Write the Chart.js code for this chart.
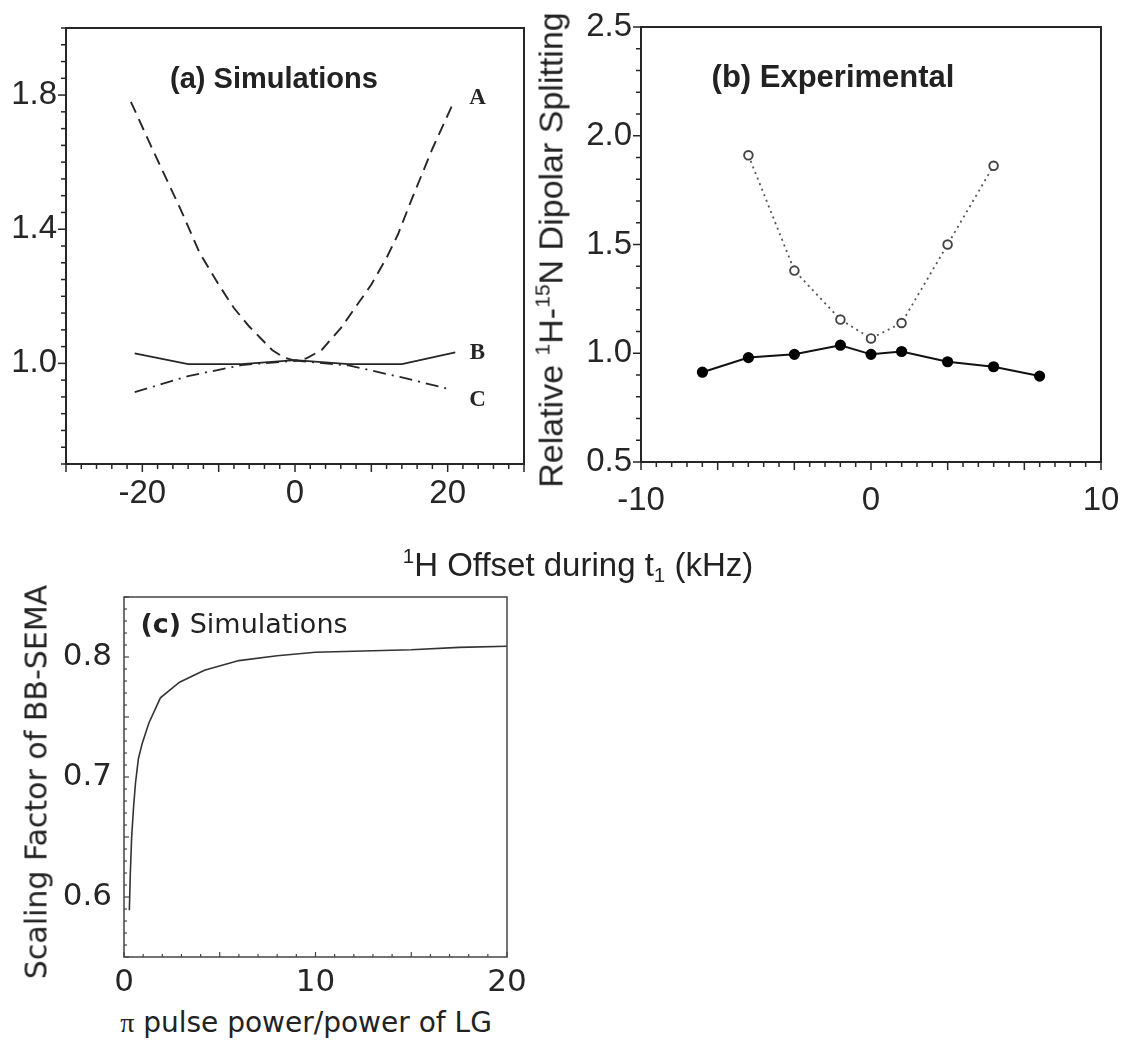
<!DOCTYPE html>
<html>
<head>
<meta charset="utf-8">
<script src="https://cdn.jsdelivr.net/npm/chart.js@4.4.1/dist/chart.umd.min.js"></script>
<style>
  html, body { margin: 0; padding: 0; background: #fff; }
  body { width: 1125px; height: 1041px; position: relative; overflow: hidden; color: #222; }
  canvas { position: absolute; }
  .t { position: absolute; white-space: nowrap; transform: translate(-50%, -50%); color: #222; line-height: 1; }
  .rot { transform: translate(-50%, -50%) rotate(-90deg); }
  .sup { font-size: 62%; position: relative; top: -0.62em; }
  .sub { font-size: 62%; position: relative; top: 0.3em; }
</style>
</head>
<body>
<canvas id="chartA" width="545" height="520" style="left:0;top:0"></canvas>
<canvas id="chartB" width="595" height="530" style="left:530px;top:0"></canvas>
<canvas id="chartC" width="525" height="445" style="left:0;top:560px"></canvas>

<div class="t" style="left:274px;top:78px;font:bold 29px 'Liberation Sans',Arial,sans-serif">(a) Simulations</div>
<div class="t" style="left:833px;top:77px;font:bold 31px 'Liberation Sans',Arial,sans-serif">(b) Experimental</div>
<div class="t" style="left:578px;top:565px;font:33px 'Liberation Sans',Arial,sans-serif"><span class="sup">1</span>H Offset during t<span class="sub">1</span> (kHz)</div>
<div class="t rot" style="left:551px;top:250px;font:34px 'Liberation Sans',Arial,sans-serif">Relative <span class="sup">1</span>H-<span class="sup">15</span>N Dipolar Splitting</div>
<div class="t" style="left:244px;top:623px;font:27px 'DejaVu Sans',sans-serif"><b>(c)</b> Simulations</div>
<div class="t rot" style="left:36px;top:782px;font:30px 'DejaVu Sans',sans-serif">Scaling Factor of BB-SEMA</div>
<div class="t" style="left:306px;top:1022px;font:28px 'DejaVu Sans',sans-serif"><span style="font-family:'Liberation Serif',serif">π</span> pulse power/power of LG</div>

<script>
// ---- (a) simulated dipolar splitting vs 1H offset (kHz) ----
const offsetA = [-21.5, -18.6, -15, -12.5, -10, -8, -6, -4.5, -3, -1.5, 0, 1.5, 3.5, 6, 8, 10, 12, 13.5, 15.3, 18, 20.8];
const curveA  = [1.78, 1.635, 1.46, 1.33, 1.235, 1.165, 1.11, 1.075, 1.04, 1.018, 1.008, 1.015, 1.04, 1.105, 1.17, 1.235, 1.315, 1.385, 1.49, 1.64, 1.78];
const offsetB = [-21, -14, -7, 0, 7, 14, 21];
const curveB  = [1.03, 0.998, 0.998, 1.01, 0.998, 0.998, 1.033];
const offsetC = [-21, -14, -7, 0, 7, 14, 20.5];
const curveC  = [0.914, 0.962, 0.995, 1.008, 0.994, 0.958, 0.922];
const curveNames = ['A', 'B', 'C'];
const tickLabelsAy = [1.0, 1.4, 1.8];
const tickLabelsAx = [-20, 0, 20];

// ---- (b) experimental splittings ----
const offsetExp = [-7.33, -5.33, -3.33, -1.33, 0, 1.33, 3.33, 5.33, 7.33];
const splitFilled = [0.913, 0.980, 0.995, 1.037, 0.995, 1.008, 0.961, 0.938, 0.895];
const offsetOpen = [-5.33, -3.33, -1.33, 0, 1.33, 3.33, 5.33];
const splitOpen = [1.91, 1.38, 1.155, 1.068, 1.139, 1.50, 1.862];
const tickLabelsBy = [0.5, 1.0, 1.5, 2.0, 2.5];
const tickLabelsBx = [-10, 0, 10];

// ---- (c) scaling factor vs pi-pulse power ratio ----
const powerRatio = [0.28, 0.33, 0.4, 0.5, 0.6, 0.75, 0.95, 1.3, 1.9, 2.9, 4.2, 6.0, 8.0, 10, 12.5, 15, 17.5, 20];
const scalingFactor = [0.589, 0.62, 0.65, 0.675, 0.695, 0.715, 0.728, 0.745, 0.766, 0.779, 0.789, 0.797, 0.801, 0.804, 0.805, 0.806, 0.808, 0.809];
const tickLabelsCy = [0.6, 0.7, 0.8];
const tickLabelsCx = [0, 10, 20];

const pts = (xs, ys) => xs.map((x, i) => ({ x, y: ys[i] }));
const fixedTicks = vals => scale => { scale.ticks = vals.map(v => ({ value: v })); };

// Box frame plus minor/major tick marks, placed through the chart's own scales
const frameTicks = {
  id: 'frameTicks',
  afterDraw(chart, args, o) {
    const { ctx, chartArea: a } = chart;
    ctx.save();
    ctx.strokeStyle = o.color;
    ctx.lineWidth = o.width;
    ctx.lineCap = 'square';
    ctx.strokeRect(a.left, a.top, a.right - a.left, a.bottom - a.top);
    ctx.lineWidth = o.tickWidth;
    ctx.lineCap = 'butt';
    for (const axis of ['x', 'y']) {
      const t = o[axis];
      const s = chart.scales[axis];
      const n = Math.round((s.max - s.min) / t.step);
      for (let i = 0; i <= n; i++) {
        const v = s.min + i * t.step;
        const major = t.majors.some(m => Math.abs(m - v) < t.step * 0.01);
        const len = (major ? t.majLen : t.minLen) * t.dir;
        const p = s.getPixelForValue(v);
        ctx.beginPath();
        if (axis === 'x') { ctx.moveTo(p, a.bottom); ctx.lineTo(p, a.bottom + len); }
        else { ctx.moveTo(a.left, p); ctx.lineTo(a.left - len, p); }
        ctx.stroke();
      }
    }
    ctx.restore();
  }
};

// Curve name letters next to the line ends
const curveLabels = {
  id: 'curveLabels',
  afterDatasetsDraw(chart, args, o) {
    if (!o.items) return;
    const { ctx } = chart;
    const xs = chart.scales.x, ys = chart.scales.y;
    ctx.save();
    ctx.font = o.font;
    ctx.fillStyle = o.color;
    ctx.textAlign = 'center';
    ctx.textBaseline = 'middle';
    o.items.forEach(it => ctx.fillText(it.text, xs.getPixelForValue(it.x), ys.getPixelForValue(it.y)));
    ctx.restore();
  }
};

const ink = '#262626';
const sansTick = { family: "'Liberation Sans', Arial, sans-serif", size: 33 };
const dejaTick = { family: "'DejaVu Sans', sans-serif", size: 31 };

function baseOptions(pad, yWidth, xHeight, xr, yr, xTicks, yTicks, font, xPad, yPad) {
  return {
    responsive: false,
    animation: false,
    layout: { padding: pad },
    plugins: { legend: { display: false }, tooltip: { enabled: false } },
    scales: {
      x: {
        type: 'linear', min: xr[0], max: xr[1],
        grid: { display: false, drawTicks: false }, border: { display: false },
        afterBuildTicks: fixedTicks(xTicks),
        // edge labels may hang past the frame; keep the plot box where it is
        afterFit: s => { s.height = xHeight; s.paddingLeft = 0; s.paddingRight = 0; },
        ticks: { font, color: ink, padding: xPad, maxRotation: 0, autoSkip: false, callback: v => String(v) }
      },
      y: {
        type: 'linear', min: yr[0], max: yr[1],
        grid: { display: false, drawTicks: false }, border: { display: false },
        afterBuildTicks: fixedTicks(yTicks),
        afterFit: s => { s.width = yWidth; s.paddingTop = 0; s.paddingBottom = 0; },
        ticks: { font, color: ink, padding: yPad, autoSkip: false, callback: v => Number(v).toFixed(1) }
      }
    }
  };
}

// (a)
const optA = baseOptions({ top: 28, right: 21, left: 0, bottom: 0 }, 66, 56, [-30, 30], [0.7, 2.0],
  tickLabelsAx, tickLabelsAy, sansTick, 10, 9);
optA.plugins.frameTicks = {
  color: ink, width: 2, tickWidth: 1.5,
  x: { step: 2, majors: [-30, -20, -10, 0, 10, 20, 30], majLen: 8, minLen: 5, dir: 1 },
  y: { step: 0.05, majors: [1.0, 1.4, 1.8], majLen: 8, minLen: 5, dir: 1 }
};
optA.plugins.curveLabels = {
  font: "bold 23px 'Liberation Serif', 'Times New Roman', serif", color: ink,
  items: curveNames.map((n, i) => ({ text: n, x: 23.9, y: [1.79, 1.03, 0.89][i] }))
};
new Chart(document.getElementById('chartA'), {
  type: 'scatter',
  data: {
    datasets: [
      { data: pts(offsetA, curveA), showLine: true, borderColor: ink, borderWidth: 1.9, borderDash: [12, 7], pointRadius: 0, tension: 0 },
      { data: pts(offsetB, curveB), showLine: true, borderColor: ink, borderWidth: 1.8, pointRadius: 0, tension: 0 },
      { data: pts(offsetC, curveC), showLine: true, borderColor: ink, borderWidth: 1.8, borderDash: [13, 6, 2, 6], pointRadius: 0, tension: 0 }
    ]
  },
  options: optA,
  plugins: [frameTicks, curveLabels]
});

// (b)
const optB = baseOptions({ top: 27, right: 24, left: 0, bottom: 0 }, 111, 68, [-10, 10], [0.5, 2.5],
  tickLabelsBx, tickLabelsBy, sansTick, 19, 9);
optB.plugins.frameTicks = {
  color: ink, width: 2, tickWidth: 1.5,
  x: { step: 2 / 3, majors: [-10, -20 / 3, -10 / 3, 0, 10 / 3, 20 / 3, 10], majLen: 8, minLen: 5, dir: 1 },
  y: { step: 0.1, majors: [0.5, 1.0, 1.5, 2.0, 2.5], majLen: 8, minLen: 5, dir: 1 }
};
new Chart(document.getElementById('chartB'), {
  type: 'scatter',
  data: {
    datasets: [
      { data: pts(offsetOpen, splitOpen), showLine: true, borderColor: '#555', borderWidth: 1.8, borderDash: [2, 4],
        pointRadius: 4.3, pointBorderWidth: 1.9, pointBackgroundColor: '#fff', pointBorderColor: '#444', tension: 0 },
      { data: pts(offsetExp, splitFilled), showLine: true, borderColor: '#111', borderWidth: 2,
        pointRadius: 4.6, pointBackgroundColor: '#000', pointBorderColor: '#000', tension: 0 }
    ]
  },
  options: optB,
  plugins: [frameTicks]
});

// (c)
const optC = baseOptions({ top: 37, right: 18, left: 0, bottom: 0 }, 124, 48, [0, 20], [0.55, 0.85],
  tickLabelsCx, tickLabelsCy, dejaTick, 7, 12);
optC.plugins.frameTicks = {
  color: '#444', width: 1.5, tickWidth: 1.2,
  x: { step: 1, majors: [0, 5, 10, 15, 20], majLen: 5, minLen: 3, dir: -1 },
  y: { step: 0.01, majors: [0.55, 0.6, 0.65, 0.7, 0.75, 0.8, 0.85], majLen: 5, minLen: 3, dir: -1 }
};
new Chart(document.getElementById('chartC'), {
  type: 'scatter',
  data: {
    datasets: [
      { data: pts(powerRatio, scalingFactor), showLine: true, borderColor: '#333', borderWidth: 1.6, pointRadius: 0, tension: 0 }
    ]
  },
  options: optC,
  plugins: [frameTicks]
});
</script>
</body>
</html>
